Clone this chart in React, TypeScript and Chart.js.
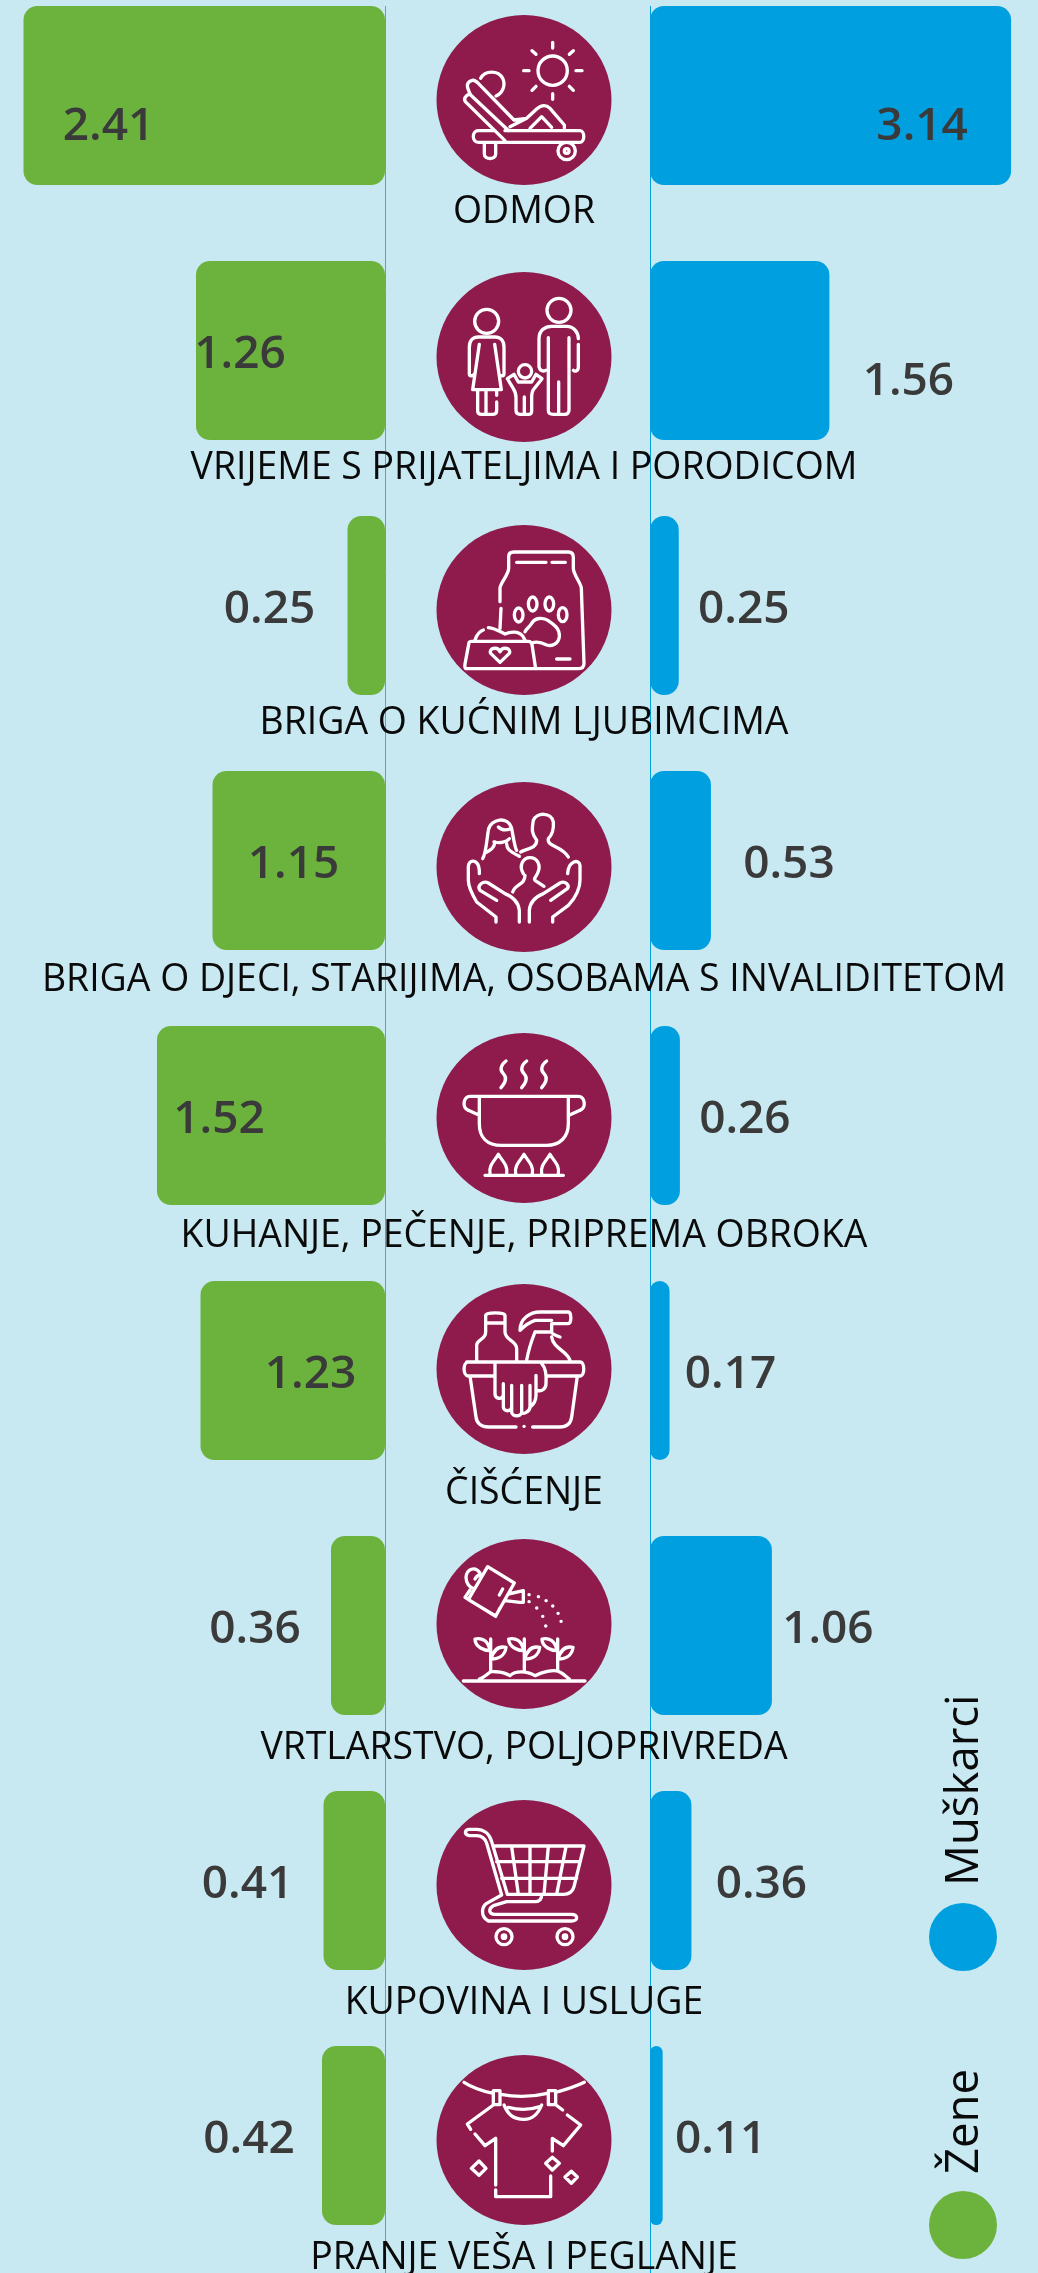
import React, { useEffect, useRef } from "react";
import { Chart, registerables } from "chart.js";

Chart.register(...registerables);

const categories = [
  "ODMOR",
  "VRIJEME S PRIJATELJIMA I PORODICOM",
  "BRIGA O KUĆNIM LJUBIMCIMA",
  "BRIGA O DJECI, STARIJIMA, OSOBAMA S INVALIDITETOM",
  "KUHANJE, PEČENJE, PRIPREMA OBROKA",
  "ČIŠĆENJE",
  "VRTLARSTVO, POLJOPRIVREDA",
  "KUPOVINA I USLUGE",
  "PRANJE VEŠA I PEGLANJE",
];
const zene = [2.41, 1.26, 0.25, 1.15, 1.52, 1.23, 0.36, 0.41, 0.42];
const muskarci = [3.14, 1.56, 0.25, 0.53, 0.26, 0.17, 1.06, 0.36, 0.11];

// value-label placement relative to the bar's end (the reference places them by hand)
const zeneLabelDx = [85, 44, -78, 81, 62, 110, -76, -76, -73];
const zeneLabelDy = [31.5, 4.5, 4.5, 4.5, 4.5, 4.5, 4.5, 4.5, 4.5];
const muskarciLabelDx = [-89, 79, 65, 78, 65, 61, 56, 70, 58];
const muskarciLabelDy = [31.5, 31.5, 4.5, 4.5, 4.5, 4.5, 4.5, 4.5, 4.5];
// category-label and icon placement relative to the row centre
const categoryLabelDy = [117, 118, 118, 120, 121, 123, 123, 123, 123];
const iconDy = [4.5, 6.5, 4.5, 6.5, 2.5, -1.5, -1.5, 4.5, 4.5];

const BG = "#c8e8f2";
const GREEN = "#6cb33e";
const BLUE = "#009fdf";
const PURPLE = "#8e1b4c";
const VALUE_TEXT = "#3a3a3a";
const LABEL_TEXT = "#0a0a0a";
const FONT = '"Open Sans"';

const CW = 1038;
const CH = 2305;
const TOP = -32;
const CENTER_X = 524;

type Icon = { ox: number; oy: number; d: string };

const ring = (x: number, y: number, r: number) =>
  `M${x + r} ${y}a${r} ${r} 0 1 1 ${-2 * r} 0a${r} ${r} 0 1 1 ${2 * r} 0`;
const oval = (x: number, y: number, rx: number, ry: number) =>
  `M${x + rx} ${y}a${rx} ${ry} 0 1 1 ${-2 * rx} 0a${rx} ${ry} 0 1 1 ${2 * rx} 0`;
const dot = (x: number, y: number) => `M${x} ${y}h.5`;

const icons: Icon[] = [
  {
    ox: 282,
    oy: 270,
    d:
      ring(368, 182, 44) +
      "M368 97V114M368 251V268M281 182H297M438 182H456M306 122L318 133M430 122L418 133M306 241L318 229M430 241L418 229" +
      "M152 205C165 180 205 180 218 205C228 225 218 250 198 258" +
      "M225 392L106 275C98 262 115 250 122 255C112 235 105 218 125 212C132 208 138 213 145 220L252 330L290 325L320 297C335 283 350 285 360 295L403 345V355" +
      "M122 255L236 362M300 355L335 320L365 352M240 350L290 325" +
      "M225 362H450C465 362 465 397 450 397H145C125 397 125 362 145 362H195" +
      "M163 397V432C163 450 197 450 197 432V397" +
      ring(410, 423, 26) +
      ring(410, 423, 7),
  },
  {
    ox: 282,
    oy: 270,
    d:
      ring(170, 163, 36) +
      ring(387, 130, 36) +
      ring(285, 313, 20) +
      "M148 232L128 368H214L194 232" +
      "M118 320V240C118 220 130 210 145 210H195C210 210 222 220 222 240V320C222 328 212 328 208 322M118 320C118 328 128 328 132 322" +
      "M143 370V432C143 442 150 442 155 442H190C197 442 200 437 200 430V405M168 372V440M200 370V385" +
      "M232 335L252 322L265 345H305L318 322L336 335L310 368C305 375 305 385 305 392V432C305 442 300 442 295 442H270C262 442 258 437 258 430V392C258 380 255 372 250 365ZM283 390V440" +
      "M355 212V430C355 442 362 442 370 442H405C412 442 417 437 417 430V212M386 345V440" +
      "M327 300V215C327 190 345 178 365 178H410C430 178 445 195 445 215M445 232V300C445 312 435 315 430 310M327 300C330 312 340 314 347 310",
  },
  {
    ox: 312,
    oy: 330,
    d:
      "M240 305V265C240 250 266 225 266 205V170C266 160 272 156 282 156H445C455 156 460 162 460 172V205C460 225 484 250 484 265L492 490C492 500 486 506 476 506H140C134 506 134 498 135 492L147 428C148 424 152 424 155 424H325C332 424 335 428 336 434L347 506" +
      "M290 187H378M396 187H436M410 477H450M243 325L240 385" +
      "M240 487L212 460C205 445 232 438 240 455C248 438 275 445 268 460Z" +
      "M165 420C170 405 175 395 190 390M205 383C225 385 240 395 255 402C270 395 295 392 308 408L315 420" +
      "M315 395C320 385 330 380 335 370C345 352 370 352 385 362C400 372 420 385 418 410C415 432 395 440 380 435C360 425 345 425 335 430" +
      oval(296, 345, 13, 21) +
      oval(338, 312, 13, 21) +
      oval(388, 312, 13, 21) +
      oval(428, 344, 13, 21),
  },
  {
    ox: 312,
    oy: 1100,
    d:
      "M188 1075C198 1060 200 1020 205 990C210 955 265 945 275 985C280 1010 285 1045 290 1050" +
      "M235 980C245 990 260 990 272 985M222 1025C240 1030 260 1025 268 1015M260 1030C260 1045 265 1050 298 1068M225 1025C222 1045 210 1050 195 1058" +
      "M302 1055C320 1045 350 1045 350 1020C335 1000 335 990 340 960C350 935 395 935 400 965C402 990 395 1005 385 1015C380 1040 425 1035 445 1070" +
      "M310 1120C295 1095 310 1072 330 1072C352 1072 365 1095 352 1120C345 1135 340 1135 345 1140L372 1158M278 1175C285 1150 315 1155 315 1125" +
      "M228 1265V1250L170 1205C155 1180 145 1160 145 1140V1100C145 1075 175 1075 178 1110V1120" +
      "M298 1265V1230C295 1205 280 1190 255 1180L205 1148C190 1140 170 1155 180 1170L230 1200" +
      "M398 1265V1250L445 1215C470 1190 480 1160 480 1140V1095C478 1075 445 1080 443 1120" +
      "M328 1265V1230C330 1205 345 1190 370 1180L420 1148C435 1140 450 1155 442 1165L392 1200",
  },
  {
    ox: 312,
    oy: 293,
    d:
      "M258 122C240 135 240 150 250 160C262 172 258 185 243 202" +
      "M320 122C302 135 302 150 312 160C324 172 320 185 305 202" +
      "M380 122C362 135 362 150 372 160C384 172 380 185 365 202" +
      "M178 228H445M178 228V310C178 350 200 375 245 375H380C420 375 445 350 445 310V228" +
      "M178 228H150C130 228 125 262 145 270L178 285M445 228H475C495 228 500 262 480 270L447 285" +
      "M195 465H430" +
      "M210 460C205 435 225 420 235 402C245 420 265 435 260 460" +
      "M287 460C282 435 302 420 312 402C322 420 342 435 337 460" +
      "M365 460C360 435 380 420 390 402C400 420 420 435 415 460",
  },
  {
    ox: 312,
    oy: 1046,
    d:
      "M140 1025H480C495 1025 495 1067 480 1067H380M225 1067H145C128 1067 128 1025 145 1025" +
      "M150 1067L168 1190C170 1210 185 1220 205 1220H288M338 1220H420C440 1220 452 1210 455 1190L472 1067" +
      dot(312, 1218) +
      "M170 1020V975C170 955 197 960 197 935V885C197 875 255 875 255 885V935C255 960 290 960 290 985V1020M197 908H255" +
      "M300 930C300 895 330 875 360 875H445C455 875 455 910 445 910H395V935M345 935H395C395 940 405 945 420 950M395 950C400 985 440 990 450 1020M345 935C335 960 325 990 320 1020M300 930C315 915 330 905 345 900H395" +
      "M225 1030V1120C225 1135 245 1140 250 1125V1090M250 1125V1160C250 1175 275 1175 275 1160V1095M275 1160V1175C275 1190 305 1190 305 1175V1095M305 1175C305 1185 330 1175 330 1160V1095M330 1160C345 1150 348 1140 348 1125V1065M352 1110C365 1115 378 1105 378 1090C380 1060 375 1040 365 1030",
  },
  {
    ox: 282,
    oy: 270,
    d:
      "M173 98L253 147L197 246L115 197Z" +
      "M120 168L105 190L197 247L210 222" +
      "M150 117C135 95 110 105 108 130C108 148 120 160 128 162M135 135C140 125 148 122 155 125" +
      "M235 180L280 170V205H270L225 200M208 183L218 165" +
      [
        [297, 182],
        [297, 203],
        [325, 188],
        [348, 200],
        [320, 222],
        [368, 216],
        [384, 238],
        [338, 247],
        [393, 262],
        [347, 276],
      ]
        .map(([x, y]) => dot(x, y))
        .join("") +
      "M100 441H465" +
      "M148 435C165 430 170 420 185 412C200 415 215 410 240 425C255 410 290 410 315 425C335 415 370 405 385 412C395 415 405 425 418 435" +
      "M182 315V410M283 315V410M383 315V410" +
      "M180 350c-15 0 -45 -10 -45 -35c20 -5 40 5 45 35M183 375c22 0 42 -10 45 -35c-23 -5 -38 10 -45 35" +
      "M281 350c-15 0 -45 -10 -45 -35c20 -5 40 5 45 35M284 375c22 0 42 -10 45 -35c-23 -5 -38 10 -45 35" +
      "M381 350c-15 0 -45 -10 -45 -35c20 -5 40 5 45 35M384 375c22 0 42 -10 45 -35c-23 -5 -38 10 -45 35",
  },
  {
    ox: 282,
    oy: 270,
    d:
      "M118 103C105 103 100 118 118 122H140C155 122 165 130 170 145L215 300L170 325C155 335 150 365 175 378H425C445 378 445 358 425 358H195C175 358 175 340 190 332L230 320H315C330 320 335 310 335 300" +
      "M118 103H140C160 103 178 115 185 140L232 298" +
      "M190 153H462L432 275C428 290 415 298 400 298H235" +
      "M200 200H450M215 250H440M245 155L265 298M300 155V298M355 155L342 298M408 155L380 298" +
      ring(222, 425, 24) +
      ring(222, 425, 5) +
      ring(405, 425, 24) +
      ring(405, 425, 5),
  },
  {
    ox: 282,
    oy: 270,
    d:
      "M102 97C130 115 165 125 190 130M212 133C260 142 310 140 352 130M385 125C410 118 440 108 463 97" +
      "M190 122H210V164H190ZM355 122H377V164H355Z" +
      "M222 165C235 195 250 208 282 208C310 208 325 190 335 165M235 172C265 180 300 180 330 170" +
      "M190 165L112 222L122 238M135 252L165 287L197 265V405M197 420V440H362V378M367 303V265L400 287L452 225L412 195M378 165L398 180" +
      "M147 333L168 355L147 376L124 355ZM367 322L388 340L367 360L347 340ZM424 364L442 381L424 400L405 381Z",
  },
];

const overlay = {
  id: "overlay",
  afterDatasetsDraw(chart: any) {
    const { ctx, scales } = chart;
    const y = scales.y;
    const zero1 = scales.xLeft.getPixelForValue(0);
    const zero2 = scales.xRight.getPixelForValue(0);
    const lineTop = y.getPixelForValue(0) - 89.5;
    ctx.save();
    ctx.lineWidth = 1;
    ctx.strokeStyle = GREEN;
    ctx.beginPath();
    ctx.moveTo(zero1 + 0.5, lineTop);
    ctx.lineTo(zero1 + 0.5, CH);
    ctx.stroke();
    ctx.strokeStyle = BLUE;
    ctx.beginPath();
    ctx.moveTo(zero2 + 0.5, lineTop);
    ctx.lineTo(zero2 + 0.5, CH);
    ctx.stroke();

    categories.forEach((name, i) => {
      const rowY = y.getPixelForValue(i);
      const cy = rowY + iconDy[i];
      ctx.fillStyle = PURPLE;
      ctx.beginPath();
      ctx.ellipse(CENTER_X, cy, 87.5, 85, 0, 0, Math.PI * 2);
      ctx.fill();

      const icon = icons[i];
      ctx.save();
      ctx.translate(CENTER_X, cy);
      ctx.scale(1 / 3, 1 / 3);
      ctx.translate(-icon.ox, -icon.oy);
      ctx.strokeStyle = "#ffffff";
      ctx.lineWidth = 10;
      ctx.lineCap = "round";
      ctx.lineJoin = "round";
      ctx.stroke(new Path2D(icon.d));
      ctx.restore();

      ctx.fillStyle = LABEL_TEXT;
      ctx.font = `400 37.4px ${FONT}`;
      ctx.textAlign = "center";
      ctx.textBaseline = "middle";
      ctx.fillText(name, CENTER_X, rowY + categoryLabelDy[i]);
    });

    ctx.fillStyle = VALUE_TEXT;
    ctx.font = `600 46px ${FONT}`;
    ctx.textAlign = "center";
    ctx.textBaseline = "middle";
    chart.data.datasets.forEach((ds: any, d: number) => {
      const dx = d === 0 ? zeneLabelDx : muskarciLabelDx;
      const dy = d === 0 ? zeneLabelDy : muskarciLabelDy;
      const scale = d === 0 ? scales.xLeft : scales.xRight;
      ds.data.forEach((v: number, i: number) => {
        ctx.fillText(v.toFixed(2), scale.getPixelForValue(v) + dx[i], y.getPixelForValue(i) + dy[i]);
      });
    });

    const legendX = 963;
    const legendCenters = [2257, 1969];
    chart.data.datasets.forEach((ds: any, d: number) => {
      ctx.fillStyle = ds.backgroundColor;
      ctx.beginPath();
      ctx.arc(legendX, legendCenters[d], 34, 0, Math.PI * 2);
      ctx.fill();
      ctx.save();
      ctx.translate(978, legendCenters[d] - 51);
      ctx.rotate(-Math.PI / 2);
      ctx.fillStyle = LABEL_TEXT;
      ctx.font = `400 45.5px ${FONT}`;
      ctx.textAlign = "left";
      ctx.textBaseline = "alphabetic";
      ctx.fillText(ds.label, 0, 0);
      ctx.restore();
    });
    ctx.restore();
  },
};

export default function App() {
  const ref = useRef<HTMLCanvasElement>(null);
  useEffect(() => {
    const chart = new Chart(ref.current!, {
      type: "bar",
      data: {
        labels: categories,
        datasets: [
          { label: "Žene", data: zene, xAxisID: "xLeft", backgroundColor: GREEN },
          { label: "Muškarci", data: muskarci, xAxisID: "xRight", backgroundColor: BLUE },
        ],
      },
      options: {
        indexAxis: "y",
        responsive: false,
        animation: false,
        layout: { padding: { bottom: 10 } },
        datasets: {
          bar: {
            grouped: false,
            barThickness: 179,
            borderRadius: 14,
            borderSkipped: false,
            inflateAmount: 0,
          },
        },
        scales: {
          y: { type: "category", display: false, grid: { display: false } },
          xLeft: {
            type: "linear",
            display: false,
            reverse: true,
            min: (385 - CW) / 150,
            max: 385 / 150,
            grid: { display: false },
          },
          xRight: {
            type: "linear",
            display: false,
            min: -650 / 115,
            max: (CW - 650) / 115,
            grid: { display: false },
          },
        },
        plugins: { legend: { display: false }, tooltip: { enabled: false } },
      },
      plugins: [overlay],
    } as any);
    return () => chart.destroy();
  }, []);

  return (
    <div style={{ position: "absolute", left: 0, top: 0, width: CW, height: 2273, overflow: "hidden", background: BG }}>
      <canvas
        ref={ref}
        width={CW}
        height={CH}
        style={{ position: "absolute", left: 0, top: TOP, display: "block" }}
      />
    </div>
  );
}
